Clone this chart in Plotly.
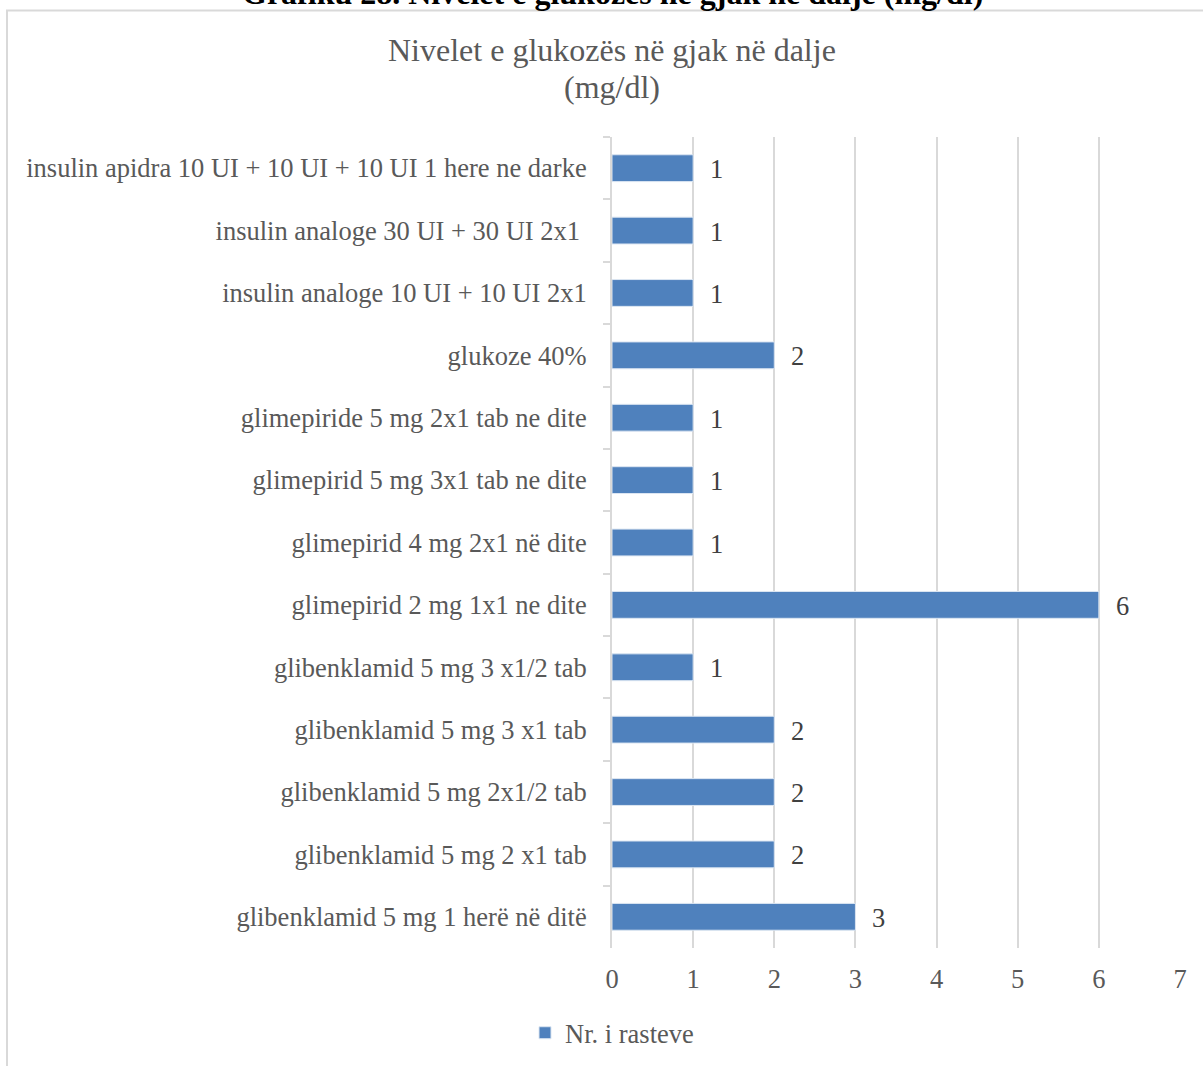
import plotly.graph_objects as go

# Treatment groups (top to bottom) and number of cases
categories = [
    "insulin apidra 10 UI + 10 UI + 10 UI 1 here ne darke",
    "insulin analoge 30 UI + 30 UI 2x1 ",
    "insulin analoge 10 UI + 10 UI 2x1",
    "glukoze 40%",
    "glimepiride 5 mg 2x1 tab ne dite",
    "glimepirid 5 mg 3x1 tab ne dite",
    "glimepirid 4 mg 2x1 në dite",
    "glimepirid 2 mg 1x1 ne dite",
    "glibenklamid 5 mg 3 x1/2 tab",
    "glibenklamid 5 mg 3 x1 tab",
    "glibenklamid 5 mg 2x1/2 tab",
    "glibenklamid 5 mg 2 x1 tab",
    "glibenklamid 5 mg 1 herë në ditë",
]
cases = [1, 1, 1, 2, 1, 1, 1, 6, 1, 2, 2, 2, 3]
x_ticks = [0, 1, 2, 3, 4, 5, 6, 7]

series_name = "Nr. i rasteve"
title_lines = ["Nivelet e glukozës në gjak në dalje", "(mg/dl)"]
caption = "Grafiku 28. Nivelet e glukozës në gjak në dalje (mg/dl)"

FONT = "Liberation Serif, Times New Roman, serif"
GREY_TEXT = "#595959"
GRID = "#D9D9D9"
BAR = "#4F81BD"
FS = 26.5

W, H = 1203, 1066
L, R, T, B = 612, 23, 137, 118
plot_w = W - L - R
plot_h = H - T - B


def px_x(px):
    return (px - L) / plot_w


def px_y(py):
    return (H - B - py) / plot_h


fig = go.Figure()
fig.add_trace(go.Bar(
    y=categories,
    x=cases,
    orientation="h",
    name=series_name,
    marker=dict(color=BAR, line=dict(color="#DCE6F2", width=1)),
    showlegend=True,
))

# value labels to the right of each bar
for cat, val in zip(categories, cases):
    fig.add_annotation(
        x=val, y=cat, xref="x", yref="y",
        text=str(val), showarrow=False,
        xanchor="left", yanchor="middle", xshift=15, yshift=-1,
        font=dict(family=FONT, size=FS, color="#404040"),
    )

# outer chart frame
fig.add_shape(
    type="rect", xref="paper", yref="paper",
    x0=px_x(7), x1=px_x(W + 20), y0=px_y(H + 20), y1=px_y(10.5),
    line=dict(color=GRID, width=2), fillcolor="rgba(0,0,0,0)", layer="below",
)

# figure caption above the frame
fig.add_annotation(
    x=px_x(612), y=px_y(13), xref="paper", yref="paper",
    text="<b>" + caption + "</b>", showarrow=False,
    xanchor="center", yanchor="bottom",
    font=dict(family=FONT, size=32, color="#000000"),
)

# chart title, two centred lines
for line, cy in zip(title_lines, [50, 87]):
    fig.add_annotation(
        x=px_x(612), y=px_y(cy), xref="paper", yref="paper",
        text=line, showarrow=False,
        xanchor="center", yanchor="middle",
        font=dict(family=FONT, size=32, color=GREY_TEXT),
    )

fig.update_layout(
    width=W, height=H,
    margin=dict(l=L, r=R, t=T, b=B, autoexpand=False),
    paper_bgcolor="white", plot_bgcolor="white",
    bargap=0.57,
    font=dict(family=FONT, color=GREY_TEXT),
    legend=dict(
        orientation="h", x=px_x(612), xanchor="center",
        y=px_y(1033), yanchor="middle",
        font=dict(family=FONT, size=FS, color=GREY_TEXT),
        itemwidth=30,
    ),
    xaxis=dict(
        range=[0, 7], tickvals=x_ticks, ticktext=[str(v) for v in x_ticks],
        showgrid=True, gridcolor=GRID, gridwidth=2,
        zeroline=False, showline=False, ticks="",
        tickfont=dict(family=FONT, size=FS, color=GREY_TEXT),
        ticklabelstandoff=12,
    ),
    yaxis=dict(
        autorange="reversed", showgrid=False, zeroline=False,
        showline=True, linecolor=GRID, linewidth=2,
        ticks="outside", tickson="boundaries", ticklen=7, tickcolor=GRID, tickwidth=2,
        tickfont=dict(family=FONT, size=FS, color=GREY_TEXT),
        ticklabelstandoff=18,
    ),
)

fig.write_html("out.html")
